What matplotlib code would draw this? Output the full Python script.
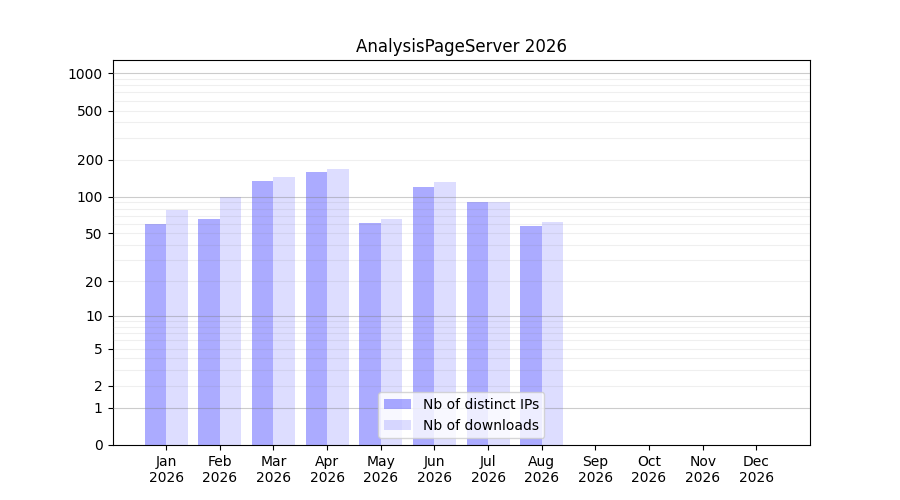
import numpy as np
import matplotlib
matplotlib.use('Agg')
import matplotlib.pyplot as plt

# monthly figures
months = ['Jan', 'Feb', 'Mar', 'Apr', 'May', 'Jun', 'Jul', 'Aug', 'Sep', 'Oct', 'Nov', 'Dec']
year = 2026
distinct_ips = [60, 66, 134, 159, 61, 120, 90, 58, 0, 0, 0, 0]
downloads = [78, 100, 145, 168, 66, 132, 90, 62, 0, 0, 0, 0]
ytick_values = [0, 1, 2, 5, 10, 20, 50, 100, 200, 500, 1000]

fig, ax = plt.subplots(figsize=(9, 5), dpi=100)

# log(x+1) scale so that zero still fits on the axis
ax.set_yscale('function', functions=(lambda v: np.log10(np.maximum(v, 0) + 1),
                                     lambda v: 10 ** v - 1))

x = np.arange(len(months))
ax.bar(x, distinct_ips, width=-0.4, align='edge', color='blue', alpha=0.33,
       label='Nb of distinct IPs', zorder=2)
ax.bar(x, downloads, width=0.4, align='edge', color='blue', alpha=0.133,
       label='Nb of downloads', zorder=2)

# grid: darker lines each decade, light ones in between
for dec in [1, 10, 100, 1000]:
    ax.axhline(dec, color='gray', alpha=0.4, lw=0.8, zorder=3)
    for m in range(2, 10):
        ax.axhline(dec * m, color='gray', alpha=0.12, lw=0.8, zorder=3)

ax.set_ylim(0, 1280)
ax.set_xlim(-1, 12)
ax.set_yticks(ytick_values)
ax.set_yticklabels([str(v) for v in ytick_values])
ax.minorticks_off()
ax.set_xticks(x)
ax.set_xticklabels(['{}\n{}'.format(m, year) for m in months])

ax.set_title('AnalysisPageServer {}'.format(year))
ax.legend(loc='lower center')

fig.savefig('out.png')
